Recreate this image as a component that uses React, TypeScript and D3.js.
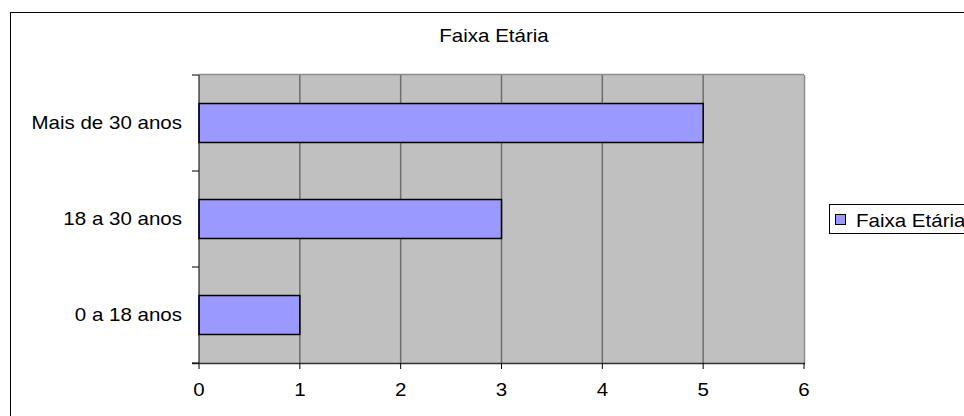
import React, { useRef, useEffect } from "react"
import * as d3 from "d3"

const chartTitle = "Faixa Etária"
const categories = ["Mais de 30 anos", "18 a 30 anos", "0 a 18 anos"]
const values = [5, 3, 1]
const xTicks = [0, 1, 2, 3, 4, 5, 6]
const seriesName = "Faixa Etária"

const W = 964
const H = 416
const plot = { left: 199, top: 75, right: 804, bottom: 363 }
const font = "'Liberation Sans', Arial, sans-serif"
const stretch = 1.14

const App: React.FC = () => {
  const svgRef = useRef<SVGSVGElement>(null)

  useEffect(() => {
    const svg = d3.select(svgRef.current)
    svg.selectAll("*").remove()

    const x = d3.scaleLinear().domain([0, 6]).range([plot.left, plot.right])
    const y = d3.scaleBand<string>()
      .domain(categories)
      .range([plot.top, plot.bottom])
      .paddingInner(0.594)
      .paddingOuter(0.297)

    const addText = (g: any, tx: number, ty: number, s: string, anchor: string) =>
      g.append("text")
        .attr("transform", `translate(${tx},${ty}) scale(${stretch},1)`)
        .attr("text-anchor", anchor)
        .attr("font-family", font)
        .attr("font-size", 18)
        .attr("fill", "#000")
        .text(s)

    // outer frame
    svg.append("rect")
      .attr("x", 10.5).attr("y", 12.5)
      .attr("width", 1000).attr("height", 500)
      .attr("fill", "#fff").attr("stroke", "#000")

    // plot background
    svg.append("rect")
      .attr("x", plot.left).attr("y", plot.top)
      .attr("width", plot.right - plot.left).attr("height", plot.bottom - plot.top)
      .attr("fill", "#c0c0c0")

    // gridlines
    svg.append("g").selectAll("line")
      .data(xTicks.slice(1, -1))
      .enter().append("line")
      .attr("x1", d => x(d)).attr("x2", d => x(d))
      .attr("y1", plot.top).attr("y2", plot.bottom)
      .attr("stroke", "#6e6e6e").attr("stroke-width", 1.5)

    // plot border top / right
    svg.append("line")
      .attr("x1", plot.left).attr("x2", plot.right)
      .attr("y1", plot.top - 0.5).attr("y2", plot.top - 0.5)
      .attr("stroke", "#8c8c8c").attr("stroke-width", 1.5)
    svg.append("line")
      .attr("x1", plot.right + 0.5).attr("x2", plot.right + 0.5)
      .attr("y1", plot.top).attr("y2", plot.bottom)
      .attr("stroke", "#8c8c8c").attr("stroke-width", 1.5)

    // bars
    svg.append("g").selectAll("rect")
      .data(values)
      .enter().append("rect")
      .attr("x", x(0))
      .attr("y", (d, i) => y(categories[i]) as number)
      .attr("width", d => x(d) - x(0))
      .attr("height", y.bandwidth())
      .attr("fill", "#9999ff")
      .attr("stroke", "#000")
      .attr("stroke-width", 1.5)

    // axes
    svg.append("line")
      .attr("x1", plot.left).attr("x2", plot.left)
      .attr("y1", plot.top).attr("y2", plot.bottom)
      .attr("stroke", "#000").attr("stroke-width", 1)
    svg.append("line")
      .attr("x1", plot.left - 7).attr("x2", plot.right + 1)
      .attr("y1", plot.bottom + 0.5).attr("y2", plot.bottom + 0.5)
      .attr("stroke", "#333").attr("stroke-width", 1.5)

    // x ticks + labels
    const xt = svg.append("g")
    xTicks.forEach(t => {
      xt.append("line")
        .attr("x1", x(t)).attr("x2", x(t))
        .attr("y1", plot.bottom).attr("y2", plot.bottom + 6)
        .attr("stroke", "#000")
      addText(xt, x(t), 396, String(t), "middle")
    })

    // y ticks at band boundaries
    const step = y.step()
    const bounds = d3.range(categories.length + 1).map(i => plot.top + i * step)
    svg.append("g").selectAll("line")
      .data(bounds)
      .enter().append("line")
      .attr("x1", plot.left - 7).attr("x2", plot.left)
      .attr("y1", d => d).attr("y2", d => d)
      .attr("stroke", "#000")

    // category labels
    const yl = svg.append("g")
    categories.forEach(c => {
      addText(yl, 182, (y(c) as number) + y.bandwidth() / 2 + 6, c, "end")
    })

    // title
    addText(svg, 494, 42, chartTitle, "middle")

    // legend
    svg.append("rect")
      .attr("x", 829.5).attr("y", 204.5)
      .attr("width", 160).attr("height", 29)
      .attr("fill", "#fff").attr("stroke", "#000")
    svg.append("rect")
      .attr("x", 835.5).attr("y", 214.5)
      .attr("width", 10).attr("height", 10)
      .attr("fill", "#9999ff").attr("stroke", "#000")
    addText(svg, 856, 227, seriesName, "start")
  }, [])

  return (
    <svg ref={svgRef} width={W} height={H}
      style={{ position: "absolute", left: 0, top: 0, background: "#fff" }} />
  )
}

export default App
